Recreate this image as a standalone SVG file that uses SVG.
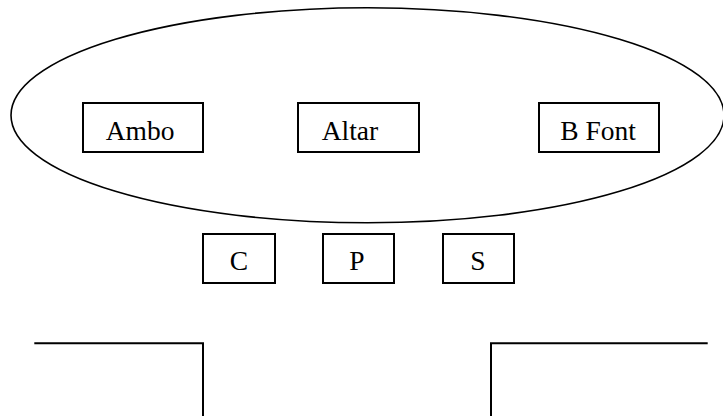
<svg xmlns="http://www.w3.org/2000/svg" width="723" height="416" viewBox="0 0 723 416">
<style>
.box{fill:#fff;stroke:#000;stroke-width:2}
.lbl{font-family:"Liberation Serif","Times New Roman",serif;font-size:27.5px;fill:#000;text-anchor:middle}
.wall{fill:none;stroke:#000;stroke-width:2}
</style>
<rect width="723" height="416" fill="#fff"/>
<g id="sanctuary">
<ellipse cx="367.5" cy="115.3" rx="356.5" ry="107.5" fill="none" stroke="#000" stroke-width="1.6"/>
</g>
<g id="ambo"><rect class="box" x="83" y="103" width="120" height="49"/><text class="lbl" x="140" y="140">Ambo</text></g>
<g id="altar"><rect class="box" x="298" y="103" width="121" height="49"/><text class="lbl" x="350" y="140">Altar</text></g>
<g id="bfont"><rect class="box" x="539" y="103" width="120" height="49"/><text class="lbl" x="598" y="140">B Font</text></g>
<g id="c"><rect class="box" x="203" y="234" width="72" height="49"/><text class="lbl" x="239" y="270">C</text></g>
<g id="p"><rect class="box" x="323" y="234" width="71" height="49"/><text class="lbl" x="357" y="270">P</text></g>
<g id="s"><rect class="box" x="443" y="234" width="71" height="49"/><text class="lbl" x="478" y="270">S</text></g>
<g id="connectors">
<polyline class="wall" points="34.3,343.3 203,343.3 203,416"/>
<polyline class="wall" points="491,416 491,343.3 707.7,343.3"/>
</g>
</svg>
